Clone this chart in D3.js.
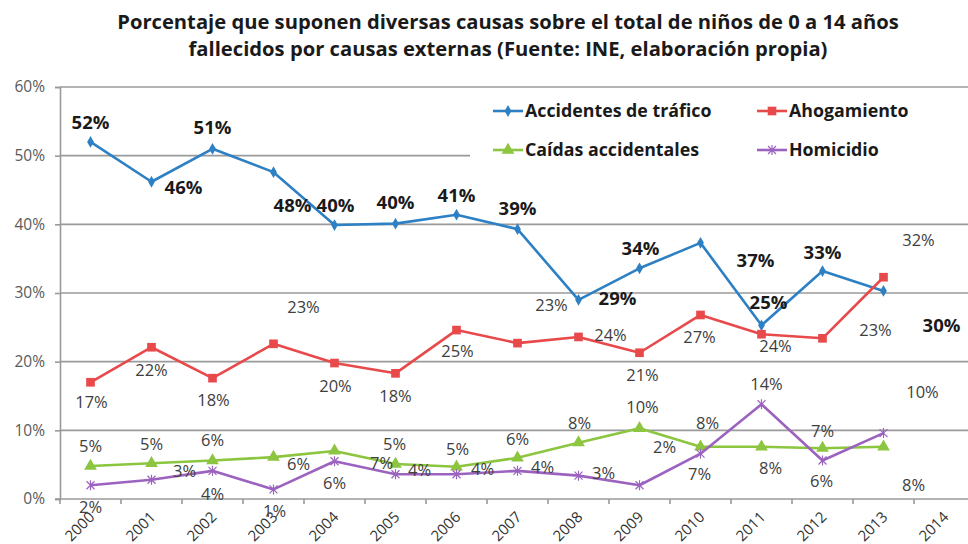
<!DOCTYPE html>
<html lang="es">
<head>
  <meta charset="UTF-8">
  <title>Causas externas 0-14 años</title>
  <script src="https://d3js.org/d3.v7.min.js"></script>
  <style>
    body {
      margin: 0;
      padding: 0;
      background-color: #ffffff;
      font-family: "Open Sans", sans-serif;
    }
    svg { display: block; }
  </style>
</head>
<body>
  <div id="chart"></div>

  <script>
    // ---- data ----
    const years = ["2000", "2001", "2002", "2003", "2004", "2005", "2006", "2007",
                   "2008", "2009", "2010", "2011", "2012", "2013", "2014"];
    const trafico = [52.0, 46.2, 51.0, 47.6, 39.9, 40.1, 41.4, 39.3, 29.0, 33.6, 37.3, 25.3, 33.2, 30.3];
    const ahogamiento = [17.0, 22.1, 17.6, 22.6, 19.8, 18.3, 24.6, 22.7, 23.6, 21.3, 26.8, 24.0, 23.4, 32.3];
    const caidas = [4.8, 5.2, 5.6, 6.1, 7.0, 5.1, 4.7, 6.0, 8.2, 10.3, 7.6, 7.6, 7.4, 7.6];
    const homicidio = [2.0, 2.8, 4.1, 1.4, 5.5, 3.6, 3.6, 4.1, 3.4, 2.0, 6.6, 13.8, 5.6, 9.6];
    const yTicks = [0, 10, 20, 30, 40, 50, 60];
    const seriesNames = ["Accidentes de tráfico", "Ahogamiento", "Caídas accidentales", "Homicidio"];

    const titleLines = [
      "Porcentaje que suponen diversas causas sobre el total de niños de 0 a 14 años",
      "fallecidos por causas externas (Fuente: INE, elaboración propia)"
    ];

    // label offsets from each point (layout only, hand-placed like the original)
    const labelOffsets = {
      trafico: [[0,-20],[32,6],[0,-21],[19,33],[1,-20],[0,-21],[0,-19],[0,-21],[39,-2],[1,-20],[55,17],[7,-23],[0,-19],[58,34]],
      ahogamiento: [[1,20],[0,23],[1,22],[30,-37],[1,23],[0,23],[1,21],[34,-38],[32,-2],[3,22],[-1,22],[14,12],[53,-8],[35,-37]],
      caidas: [[0,-20],[0,-19],[0,-20],[25,7],[47,12],[-1,-20],[1,-18],[0,-19],[1,-20],[3,-21],[7,-24],[9,21],[0,-17],[30,38]],
      homicidio: [[0,22],[33,-9],[0,23],[1,22],[0,22],[24,-4],[26,-5],[25,-4],[25,-3],[25,-38],[-1,20],[5,-20],[-1,21],[39,-41]]
    };

    const width = 968;
    const height = 544;
    const font = "'Open Sans', sans-serif";

    const svg = d3.select("#chart")
      .append("svg")
      .attr("width", width)
      .attr("height", height);

    const x = d3.scaleBand()
      .domain(years)
      .range([60, 975]);

    const y = d3.scaleLinear()
      .domain([0, 60])
      .range([499, 87]);

    const cx = i => x(years[i]) + x.bandwidth() / 2;
    const pct = d3.format(".0f");

    // title
    svg.append("g")
      .selectAll("text")
      .data(titleLines)
      .enter()
      .append("text")
      .attr("x", 508)
      .attr("y", (d, i) => 29 + i * 27)
      .attr("text-anchor", "middle")
      .style("font-family", font)
      .style("font-weight", "bold")
      .style("font-size", "20.2px")
      .style("fill", "#1a1a1a")
      .text(d => d);

    // gridlines
    svg.append("g")
      .selectAll("line")
      .data(yTicks.filter(t => t > 0))
      .enter()
      .append("line")
      .attr("x1", 60)
      .attr("x2", width)
      .attr("y1", d => y(d))
      .attr("y2", d => y(d))
      .style("stroke", "#9a9a9a")
      .style("stroke-width", 1.6);

    // y axis
    const yAxis = svg.append("g")
      .attr("transform", "translate(60,0)")
      .call(d3.axisLeft(y).tickValues(yTicks).tickSize(5).tickFormat(d => d + "%"));
    yAxis.select(".domain").style("stroke", "#9a9a9a").style("stroke-width", 1.6);
    yAxis.selectAll(".tick line").style("stroke", "#9a9a9a").style("stroke-width", 1.6);
    yAxis.selectAll(".tick text")
      .attr("x", -15)
      .style("font-family", font)
      .style("font-size", "15.5px")
      .style("fill", "#5a5a5a");

    // x axis (ticks between categories)
    const xAxis = svg.append("g")
      .attr("transform", "translate(0,499)");
    xAxis.append("line")
      .attr("x1", 55)
      .attr("x2", width)
      .style("stroke", "#9a9a9a")
      .style("stroke-width", 1.6);
    xAxis.selectAll(".xt")
      .data(years)
      .enter()
      .append("line")
      .attr("class", "xt")
      .attr("x1", d => x(d))
      .attr("x2", d => x(d))
      .attr("y1", 0)
      .attr("y2", 5)
      .style("stroke", "#9a9a9a")
      .style("stroke-width", 1.6);
    xAxis.selectAll("text")
      .data(years)
      .enter()
      .append("text")
      .attr("transform", d => `translate(${x(d) + x.bandwidth() / 2 + 5},${19}) rotate(-45)`)
      .attr("text-anchor", "end")
      .style("font-family", font)
      .style("font-size", "15px")
      .style("fill", "#333")
      .text(d => d);

    // legend background (covers the upper gridline like the original)
    svg.append("rect")
      .attr("x", 470)
      .attr("y", 92)
      .attr("width", width - 470)
      .attr("height", 80)
      .style("fill", "#ffffff");

    const series = [
      { key: "trafico", name: seriesNames[0], values: trafico, color: "#2e80c4", shape: "diamond", bold: true },
      { key: "ahogamiento", name: seriesNames[1], values: ahogamiento, color: "#e8494b", shape: "square", bold: false },
      { key: "caidas", name: seriesNames[2], values: caidas, color: "#8cc53f", shape: "triangle", bold: false },
      { key: "homicidio", name: seriesNames[3], values: homicidio, color: "#9b63bf", shape: "cross", bold: false }
    ];

    function marker(g, s) {
      if (s.shape === "diamond") {
        g.append("path").attr("d", d3.symbol().type(d3.symbolDiamond).size(40)).style("fill", s.color);
      } else if (s.shape === "square") {
        g.append("path").attr("d", d3.symbol().type(d3.symbolSquare).size(75)).style("fill", s.color);
      } else if (s.shape === "triangle") {
        g.append("path").attr("d", d3.symbol().type(d3.symbolTriangle).size(70)).style("fill", s.color);
      } else {
        g.append("path").attr("d", "M-4,-4L4,4M-4,4L4,-4M0,-5L0,5")
          .style("stroke", s.color).style("stroke-width", 1.2).style("fill", "none");
      }
    }

    const line = d3.line()
      .x((d, i) => cx(i))
      .y(d => y(d));

    // lines and markers
    series.forEach(s => {
      svg.append("path")
        .datum(s.values)
        .attr("d", line)
        .style("fill", "none")
        .style("stroke", s.color)
        .style("stroke-width", 2.6)
        .style("stroke-linejoin", "round");

      svg.append("g")
        .selectAll("g")
        .data(s.values)
        .enter()
        .append("g")
        .attr("transform", (d, i) => `translate(${cx(i)},${y(d)})`)
        .each(function () { marker(d3.select(this), s); });
    });

    // data labels
    series.forEach(s => {
      svg.append("g")
        .selectAll("text")
        .data(s.values)
        .enter()
        .append("text")
        .attr("x", (d, i) => cx(i) + labelOffsets[s.key][i][0])
        .attr("y", (d, i) => y(d) + labelOffsets[s.key][i][1])
        .attr("dy", "0.36em")
        .attr("text-anchor", "middle")
        .style("font-family", font)
        .style("font-size", s.bold ? "18.5px" : "16.5px")
        .style("font-weight", s.bold ? "bold" : "normal")
        .style("fill", s.bold ? "#1a1a1a" : "#404040")
        .text(d => pct(d) + "%");
    });

    // legend
    const legendPos = [[493, 111], [757, 111], [493, 150], [757, 150]];
    series.forEach((s, i) => {
      const g = svg.append("g")
        .attr("transform", `translate(${legendPos[i][0]},${legendPos[i][1]})`);
      g.append("line")
        .attr("x1", 0)
        .attr("x2", 30)
        .style("stroke", s.color)
        .style("stroke-width", 2.6);
      marker(g.append("g").attr("transform", "translate(15,0)"), s);
      g.append("text")
        .attr("x", 32)
        .attr("dy", "0.36em")
        .style("font-family", font)
        .style("font-weight", "bold")
        .style("font-size", "17.8px")
        .style("fill", "#1a1a1a")
        .text(s.name);
    });
  </script>
</body>
</html>
